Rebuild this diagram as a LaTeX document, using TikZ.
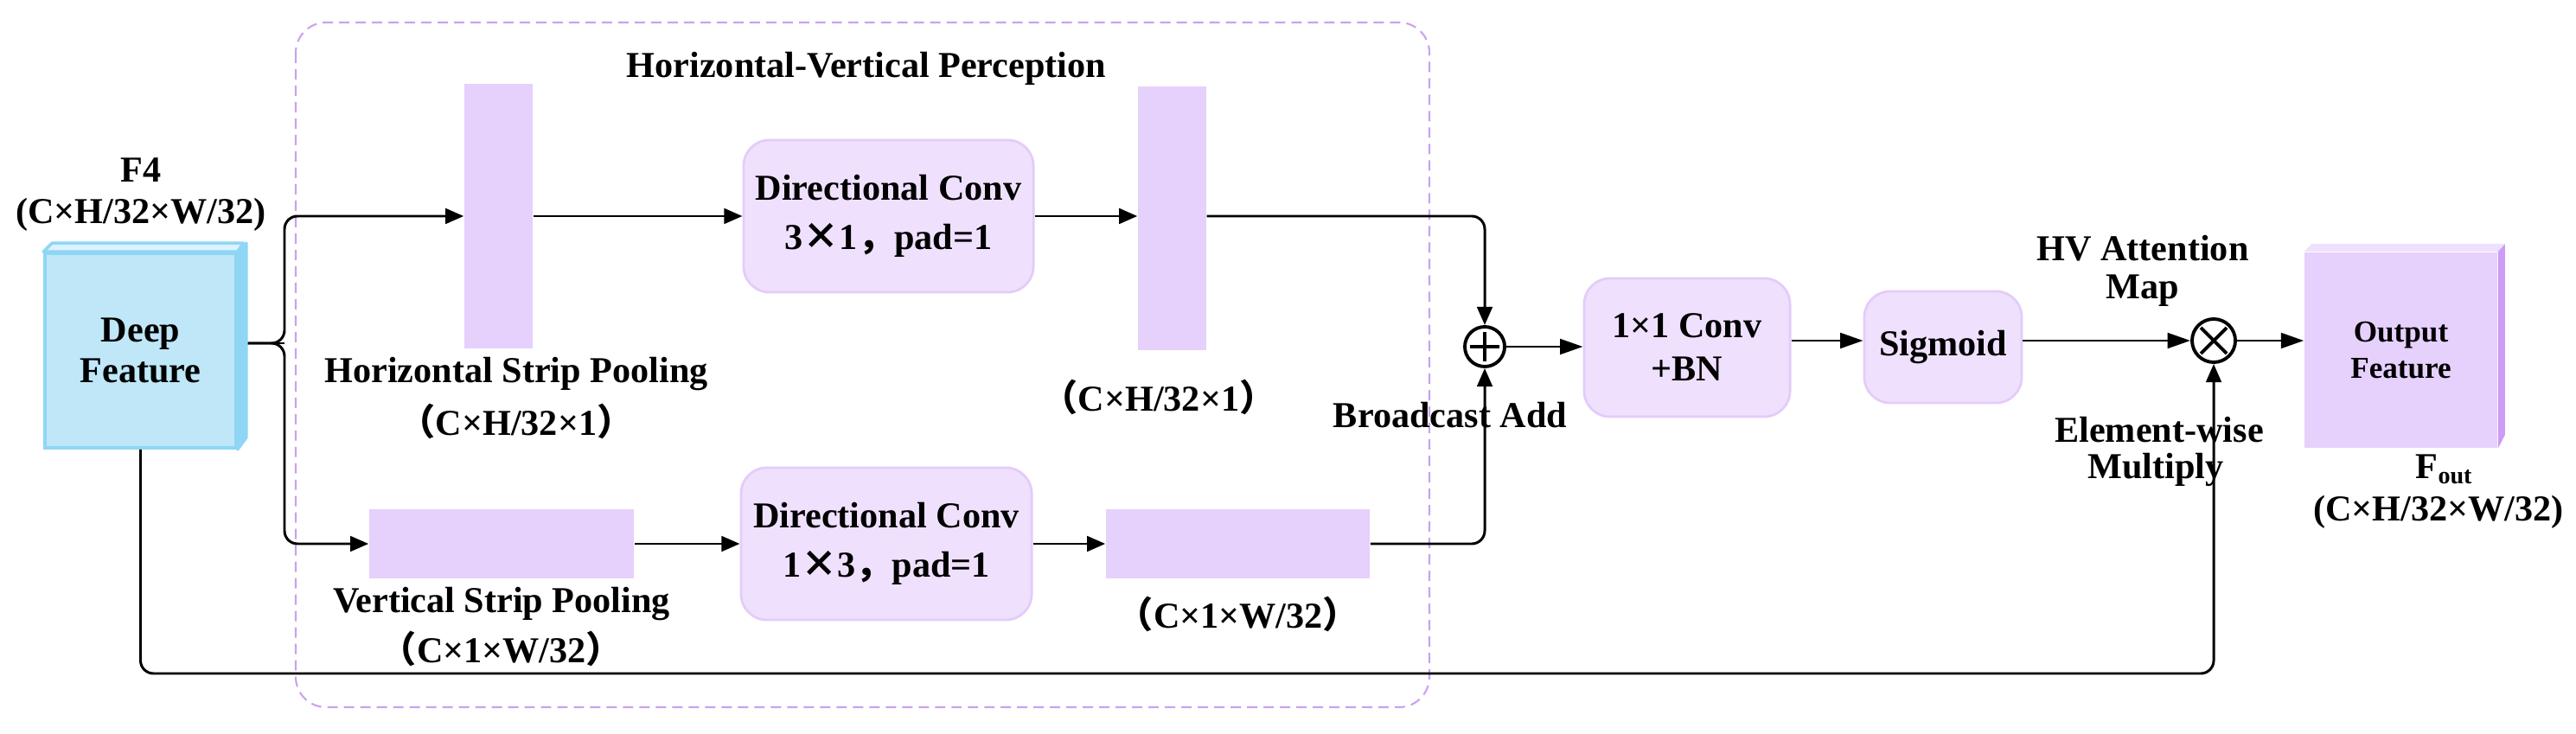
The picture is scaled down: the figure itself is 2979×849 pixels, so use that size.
\documentclass[tikz,border=0pt]{standalone}
\usepackage{fontspec}
\setmainfont{Liberation Serif}
\newfontfamily\cjk{Noto Sans CJK SC}
\usetikzlibrary{arrows.meta,calc}
\definecolor{dfFront}{HTML}{BFE7F8}
\definecolor{dfTop}{HTML}{DCF2FC}
\definecolor{dfSide}{HTML}{8FD6F5}
\definecolor{stripc}{HTML}{E6D0FC}
\definecolor{convfill}{HTML}{EFE1FD}
\definecolor{convline}{HTML}{E3CCFA}
\definecolor{dashc}{HTML}{C9A2F2}
\definecolor{outTop}{HTML}{EEE0FD}
\definecolor{outSide}{HTML}{CC9CF6}
\newcommand{\fp}[1]{{\cjk #1}}
\begin{document}
\begin{tikzpicture}[x=0.01cm,y=-0.01cm,
  stripbox/.style={fill=stripc, draw=none, inner sep=0},
  convbox/.style={fill=convfill, draw=convline, line width=0.8pt, rounded corners=0.3cm, align=center, inner sep=0},
  txt/.style={font=\bfseries\fontsize{12}{14}\selectfont, inner sep=0},
  conn/.style={line width=0.85pt, -{Triangle[length=6pt,width=5pt]}},
  connL/.style={line width=0.85pt, -{Triangle[length=7.5pt,width=5pt]}},
  plain/.style={line width=0.85pt},
  opc/.style={circle, draw, line width=1.1pt, inner sep=0, fill=white}]
\useasboundingbox (0,0) rectangle (2979,849);

% dashed group
\draw[dashc, line width=0.6pt, dash pattern=on 3.4pt off 2pt, rounded corners=0.35cm] (342,26) rectangle (1653,818);
\node[txt] (title) at (1002,79) {Horizontal-Vertical Perception};

% strips
\node[stripbox, minimum width=0.79cm, minimum height=3.06cm] (hs1) at (576.5,250) {};
\node[stripbox, minimum width=0.79cm, minimum height=3.05cm] (hs2) at (1355.5,252.5) {};
\node[stripbox, minimum width=3.06cm, minimum height=0.79cm] (vs1) at (580,629) {};
\node[stripbox, minimum width=3.05cm, minimum height=0.79cm] (vs2) at (1431.5,629) {};

% conv boxes
\node[convbox, minimum width=3.35cm, minimum height=1.76cm, font=\bfseries\fontsize{12}{16.2}\selectfont] (dc1) at (1027.5,250) {Directional Conv\\3\fp{×}1\fp{，}pad=1};
\node[convbox, minimum width=3.36cm, minimum height=1.76cm, font=\bfseries\fontsize{12}{16.2}\selectfont] (dc2) at (1025,629) {Directional Conv\\1\fp{×}3\fp{，}pad=1};
\node[convbox, minimum width=2.38cm, minimum height=1.60cm, font=\bfseries\fontsize{12}{14.2}\selectfont] (c11) at (1951,402) {1×1 Conv\\+BN};
\node[convbox, minimum width=1.82cm, minimum height=1.29cm, font=\bfseries\fontsize{12}{14}\selectfont] (sig) at (2247,401.5) {Sigmoid};

% labels
\node[txt] (f4) at (163,197) {F4};
\node[txt] (f4d) at (163,248) {(C×H/32×W/32)};
\node[txt] (hspl) at (597,433) {Horizontal Strip Pooling};
\node[txt] (hspd) at (597,487) {\fp{（}C×H/32×1\fp{）}};
\node[txt] (hs2d) at (1340,459) {\fp{（}C×H/32×1\fp{）}};
\node[txt] (vspl) at (580,699) {Vertical Strip Pooling};
\node[txt] (vspd) at (580,750) {\fp{（}C×1×W/32\fp{）}};
\node[txt] (vs2d) at (1432,710) {\fp{（}C×1×W/32\fp{）}};
\node[txt] (bcast) at (1677,480) {Broadcast Add};
\node[txt] (hva) at (2478,287) {HV Attention};
\node[txt] (hvm) at (2478,336) {Map};
\node[txt] (ewa) at (2497,497) {Element-wise};
\node[txt] (ewm) at (2493,543) {Multiply};
\node[txt] (fout) at (2827,543) {F\textsubscript{out}};
\node[txt] (foutd) at (2820,592) {(C×H/32×W/32)};

% operators
\node[opc, minimum size=0.46cm] (plus) at (1717,401) {};
\draw[line width=1.1pt] ($(plus.center)+(-17,0)$) -- ($(plus.center)+(17,0)$);
\draw[line width=1.1pt] ($(plus.center)+(0,-17)$) -- ($(plus.center)+(0,17)$);
\node[opc, minimum size=0.50cm] (mul) at (2560,394) {};
\draw[line width=1.1pt] ($(mul.center)+(-15,-15)$) -- ($(mul.center)+(15,15)$);
\draw[line width=1.1pt] ($(mul.center)+(-15,15)$) -- ($(mul.center)+(15,-15)$);

% deep feature box
\node[fill=dfFront, draw=dfSide, line width=1pt, minimum width=2.21cm, minimum height=2.25cm, inner sep=0, align=center, font=\bfseries\fontsize{12}{13.4}\selectfont] (deep) at (162.5,405.5) {Deep\\Feature};
% output box
\node[fill=stripc, draw=none, minimum width=2.23cm, minimum height=2.26cm, inner sep=0, align=center, font=\bfseries\fontsize{10}{11.7}\selectfont] (out) at (2776.5,405) {Output\\Feature};

% connectors
\coordinate (br) at (329,397);
\coordinate (bot) at (0,779);
\draw[plain] (deep.east |- br) -- ++(10,0) -- (br);
\draw[conn, rounded corners=0.15cm] ($(deep.east |- br)+(5,0)$) -- (br) |- (hs1.west);
\draw[conn, rounded corners=0.15cm] ($(deep.east |- br)+(5,0)$) -- (br) |- (vs1.west);
\draw[conn] (hs1.east) -- (dc1.west);
\draw[conn] (dc1.east) -- (hs2.west |- dc1.east);
\draw[conn, rounded corners=0.15cm] (hs2.east |- dc1.east) -| (plus.north);
\draw[conn] (vs1.east) -- (dc2.west |- vs1.east);
\draw[conn] (dc2.east |- vs1.east) -- (vs2.west);
\draw[conn, rounded corners=0.15cm] (vs2.east) -| (plus.south);
\draw[connL] (plus.east) -- (c11.west |- plus.east);
\draw[connL] (c11.east |- mul.west) -- (sig.west |- mul.west);
\draw[connL] (sig.east |- mul.west) -- (mul.west);
\draw[connL] (mul.east) -- (out.west |- mul.east);
\draw[conn, rounded corners=0.15cm] (deep.south) |- (mul.south |- bot) -- (mul.south);

% 3D faces
\draw[fill=dfTop, draw=dfSide, line width=1pt, line join=round] (deep.north west) -- ++(10,-10) -- ++(221,0) -- (deep.north east) -- cycle;
\draw[fill=dfSide, draw=dfSide, line width=1pt, line join=round] (deep.north east) -- ++(10,-10) -- ++(0,225) -- (deep.south east) -- cycle;
\fill[outTop] (out.north west) -- ++(9,-9) -- ++(223,0) -- (out.north east) -- cycle;
\fill[outSide] (out.north east) -- ++(8,-9) -- ++(0,221) -- (out.south east) -- cycle;
\end{tikzpicture}
\end{document}
